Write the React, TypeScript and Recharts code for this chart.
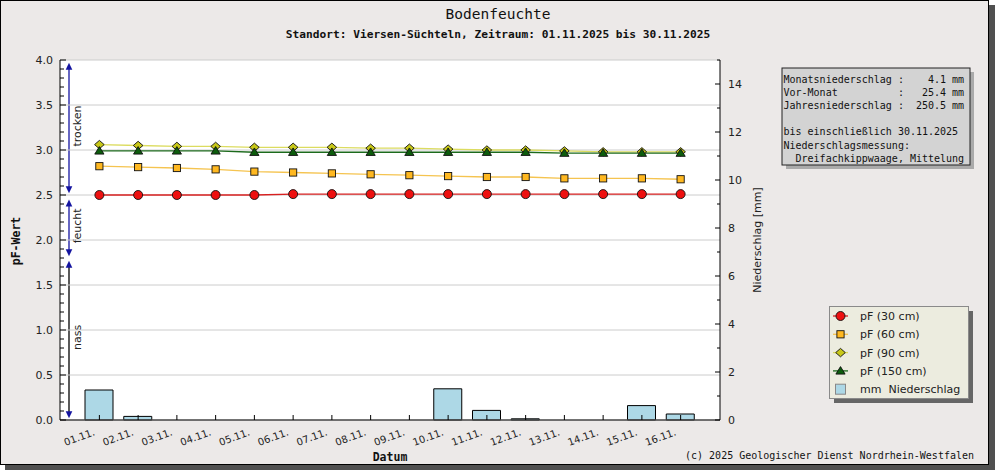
import React from "react";
import {
  ComposedChart, Bar, Line, XAxis, YAxis, CartesianGrid, ReferenceLine, ReferenceArea,
} from "recharts";

// Tage (Kategorien)
const dates = [
  "01.11.", "02.11.", "03.11.", "04.11.", "05.11.", "06.11.", "07.11.", "08.11.",
  "09.11.", "10.11.", "11.11.", "12.11.", "13.11.", "14.11.", "15.11.", "16.11.",
];

// pF-Werte je Tiefe
const pf30 = [2.5, 2.5, 2.5, 2.5, 2.5, 2.51, 2.51, 2.51, 2.51, 2.51, 2.51, 2.51, 2.51, 2.51, 2.51, 2.51];
const pf60 = [2.82, 2.81, 2.8, 2.785, 2.76, 2.75, 2.74, 2.73, 2.72, 2.71, 2.7, 2.7, 2.685, 2.685, 2.685, 2.675];
const pf90 = [3.06, 3.05, 3.04, 3.04, 3.03, 3.03, 3.03, 3.02, 3.02, 3.01, 3.0, 3.0, 2.99, 2.98, 2.98, 2.98];
const pf150 = [2.99, 2.99, 2.99, 2.99, 2.975, 2.975, 2.975, 2.975, 2.975, 2.975, 2.975, 2.975, 2.965, 2.965, 2.965, 2.965];

// Niederschlag in mm
const niederschlag = [1.25, 0.15, 0, 0, 0, 0, 0, 0, 0, 1.3, 0.4, 0.05, 0, 0, 0.6, 0.25];

// Achsen
const pfMajorTicks = [0, 0.5, 1, 1.5, 2, 2.5, 3, 3.5, 4];
const pfTicks = Array.from({ length: 41 }, (_, i) => i / 10);
const mmTicks = [0, 1, 2, 3, 4, 5, 6, 7, 8, 9, 10, 11, 12, 13, 14, 15];

// Bodenfeuchte-Bereiche
const zoneLabels = ["trocken", "feucht", "nass"];
const zoneTops = [3.97, 2.45, 1.77];
const zoneBottoms = [2.52, 1.82, 0.02];
const zoneLineColors = ["#1414a0", "#1414a0", "#000000"];

const infoLines = [
  "Monatsniederschlag :    4.1 mm",
  "Vor-Monat          :   25.4 mm",
  "Jahresniederschlag :  250.5 mm",
  "",
  "bis einschließlich 30.11.2025",
  "Niederschlagsmessung:",
  "  Dreifachkippwaage, Mittelung",
];

const SANS = "'DejaVu Sans', Verdana, sans-serif";
const MONO = "'DejaVu Sans Mono', monospace";
const X_PAD = 20;

const data = dates.map((d, i) => ({
  date: d,
  pf30: pf30[i],
  pf60: pf60[i],
  pf90: pf90[i],
  pf150: pf150[i],
  mm: niederschlag[i],
}));

function Marker({ kind, cx, cy, fill }: { kind: string; cx: number; cy: number; fill: string }) {
  if (kind === "circle") return <circle cx={cx} cy={cy} r={4.5} fill={fill} stroke="#111" strokeWidth={0.9} />;
  if (kind === "square")
    return <rect x={cx - 3.6} y={cy - 3.6} width={7.2} height={7.2} fill={fill} stroke="#111" strokeWidth={0.9} />;
  if (kind === "diamond")
    return (
      <polygon
        points={`${cx},${cy - 4.2} ${cx + 4.8},${cy} ${cx},${cy + 4.2} ${cx - 4.8},${cy}`}
        fill={fill} stroke="#111" strokeWidth={0.9}
      />
    );
  return (
    <polygon
      points={`${cx},${cy - 4.3} ${cx + 4.6},${cy + 3.2} ${cx - 4.6},${cy + 3.2}`}
      fill={fill} stroke="#111" strokeWidth={0.9}
    />
  );
}

const series = [
  { key: "pf30", name: "pF (30 cm)", line: "#d82020", fill: "#ee1010", marker: "circle" },
  { key: "pf60", name: "pF (60 cm)", line: "#f5c450", fill: "#ffb820", marker: "square" },
  { key: "pf90", name: "pF (90 cm)", line: "#dcdc60", fill: "#c8c818", marker: "diamond" },
  { key: "pf150", name: "pF (150 cm)", line: "#1c6a1c", fill: "#0c5c0c", marker: "triangle" },
];

const PfTick = (props: any) => {
  const { x, y, payload } = props;
  const v = payload.value as number;
  const major = Math.abs(v * 2 - Math.round(v * 2)) < 1e-6;
  return (
    <g>
      <line x1={x} x2={x + (major ? 6 : 4)} y1={y} y2={y} stroke="#000" strokeWidth={1} />
      {major && (
        <text x={x - 7} y={y} dy="0.36em" textAnchor="end" fontSize={11} fontFamily={SANS} fill="#222">
          {v.toFixed(1)}
        </text>
      )}
    </g>
  );
};

const MmTick = (props: any) => {
  const { x, y, payload } = props;
  const v = payload.value as number;
  const major = v % 2 === 0;
  return (
    <g>
      <line x1={x} x2={x - (major ? 5 : 3)} y1={y} y2={y} stroke="#000" strokeWidth={1} />
      {major && (
        <text x={x + 8} y={y} dy="0.36em" textAnchor="start" fontSize={11} fontFamily={SANS} fill="#222">
          {v}
        </text>
      )}
    </g>
  );
};

const DateTick = (props: any) => {
  const { x, y, payload } = props;
  return (
    <g>
      <line x1={x} x2={x} y1={y} y2={y - 5} stroke="#000" strokeWidth={1} />
      <text
        transform={`translate(${x - 4},${y + 15}) rotate(-20)`}
        textAnchor="end" fontSize={10} fontFamily={SANS} fill="#222"
      >
        {payload.value}
      </text>
    </g>
  );
};

// the area spans the padded x range, so step back to the plot edge first
const zoneShape = (i: number) => (props: any) => {
  const { x, y, height } = props;
  const ax = x - X_PAD + 9;
  const top = y;
  const bottom = y + height;
  return (
    <g>
      <line x1={ax} x2={ax} y1={top + 5} y2={bottom - 5} stroke={zoneLineColors[i]} strokeWidth={1.3} />
      <polygon points={`${ax},${top} ${ax - 3.3},${top + 7} ${ax + 3.3},${top + 7}`} fill="#1414a0" />
      <polygon points={`${ax},${bottom} ${ax - 3.3},${bottom - 7} ${ax + 3.3},${bottom - 7}`} fill="#1414a0" />
      <text
        transform={`translate(${ax + 8},${y + height / 2 - 2}) rotate(-90)`}
        textAnchor="middle" dominantBaseline="central" fontSize={11} fontFamily={SANS} fill="#222"
      >
        {zoneLabels[i]}
      </text>
    </g>
  );
};

function Overlay() {
  const legendRows = [...series.map((s) => s.name), "mm  Niederschlag"];
  return (
    <svg width={995} height={470} style={{ position: "absolute", left: 0, top: 0, pointerEvents: "none" }}>
      <text x={498} y={19} textAnchor="middle" fontSize={14.5} fontFamily={MONO} fill="#111">
        Bodenfeuchte
      </text>
      <text x={498} y={38} textAnchor="middle" fontSize={11.2} fontWeight="bold" fontFamily={MONO} fill="#111">
        Standort: Viersen-Süchteln, Zeitraum: 01.11.2025 bis 30.11.2025
      </text>
      <text transform="translate(20,241) rotate(-90)" textAnchor="middle" fontSize={11.5} fontWeight="bold" fontFamily={MONO} fill="#111">
        pF-Wert
      </text>
      <text transform="translate(761,240) rotate(-90)" textAnchor="middle" fontSize={11} fontFamily={SANS} fill="#222">
        Niederschlag [mm]
      </text>
      <text x={390} y={461} textAnchor="middle" fontSize={11.5} fontWeight="bold" fontFamily={MONO} fill="#111">
        Datum
      </text>
      <text x={974} y={459} textAnchor="end" fontSize={10} fontFamily={MONO} fill="#111">
        (c) 2025 Geologischer Dienst Nordrhein-Westfalen
      </text>

      {/* Infobox */}
      <rect x={786} y={72} width={188} height={97} fill="#aaaaaa" />
      <rect x={782} y={68} width={188} height={97} fill="#d3d3d3" stroke="#222" strokeWidth={1} />
      {infoLines.map((l, i) => (
        <text
          key={i} x={783.5} y={83 + i * 13.1} fontSize={10} fontFamily={MONO} fill="#111"
          xmlSpace="preserve" style={{ whiteSpace: "pre" }}
        >
          {l}
        </text>
      ))}

      {/* Legende */}
      <rect x={834} y={311} width={139} height={92} fill="#666666" />
      <rect x={829.5} y={306.5} width={139} height={92} fill="#ececdf" stroke="#8a8a8a" strokeWidth={1} />
      {legendRows.map((name, i) => {
        const cy = 316 + i * 18.3;
        const s = series[i];
        return (
          <g key={name}>
            {s ? (
              <>
                <line x1={833} x2={848} y1={cy} y2={cy} stroke={s.line} strokeWidth={1.3} />
                <Marker kind={s.marker} cx={840.5} cy={cy} fill={s.fill} />
              </>
            ) : (
              <rect x={835.5} y={cy - 5} width={10} height={10} fill="#add8e6" stroke="#888" strokeWidth={1} />
            )}
            <text x={860} y={cy + 4} fontSize={11} fontFamily={SANS} fill="#222" xmlSpace="preserve" style={{ whiteSpace: "pre" }}>
              {name}
            </text>
          </g>
        );
      })}
    </svg>
  );
}

export default function App() {
  return (
    <div style={{ position: "absolute", left: 0, top: 0, width: 995, height: 470, background: "#fff" }}>
      <div style={{ position: "absolute", left: 5, top: 5, width: 990, height: 465, background: "#505050" }} />
      <div
        style={{
          position: "absolute", left: 0, top: 0, width: 989, height: 465,
          background: "#ece9e8", border: "1px solid #000", boxSizing: "border-box",
        }}
      />
      <div style={{ position: "absolute", left: 0, top: 0 }}>
        <ComposedChart width={995} height={470} data={data} margin={{ top: 60, right: 235, bottom: 20, left: 0 }}>
          <CartesianGrid yAxisId="pf" horizontal={false} vertical={false} fill="#ffffff" fillOpacity={1} />
          {pfMajorTicks.map((t) => (
            <ReferenceLine key={t} yAxisId="pf" y={t} stroke="#cccccc" strokeWidth={1} />
          ))}
          {zoneLabels.map((z, i) => (
            <ReferenceArea
              key={z} yAxisId="pf" y1={zoneBottoms[i]} y2={zoneTops[i]}
              shape={zoneShape(i)} fill="none" fillOpacity={0}
            />
          ))}
          <Bar
            yAxisId="mm" dataKey="mm" fill="#add8e6" stroke="#000" strokeWidth={1}
            barSize={28} isAnimationActive={false}
          />
          {series.map((s) => (
            <Line
              key={s.key} yAxisId="pf" dataKey={s.key} type="linear" stroke={s.line} strokeWidth={1.3}
              isAnimationActive={false}
              dot={(p: any) => <Marker key={`${s.key}-${p.index}`} kind={s.marker} cx={p.cx} cy={p.cy} fill={s.fill} />}
              activeDot={false}
            />
          ))}
          <XAxis
            dataKey="date" type="category" height={30} interval={0} padding={{ left: X_PAD, right: X_PAD }}
            tickSize={0} tickMargin={0} tickLine={false} tick={DateTick}
            axisLine={{ stroke: "#000", strokeWidth: 1 }}
          />
          <YAxis
            yAxisId="pf" orientation="left" width={60} domain={[0, 4]} ticks={pfTicks} interval={0}
            tickSize={0} tickMargin={0} tickLine={false} tick={PfTick}
            axisLine={{ stroke: "#000", strokeWidth: 1 }} allowDecimals
          />
          <YAxis
            yAxisId="mm" orientation="right" width={40} domain={[0, 15]} ticks={mmTicks} interval={0}
            tickSize={0} tickMargin={0} tickLine={false} tick={MmTick}
            axisLine={{ stroke: "#000", strokeWidth: 1 }}
          />
        </ComposedChart>
      </div>
      <Overlay />
    </div>
  );
}
